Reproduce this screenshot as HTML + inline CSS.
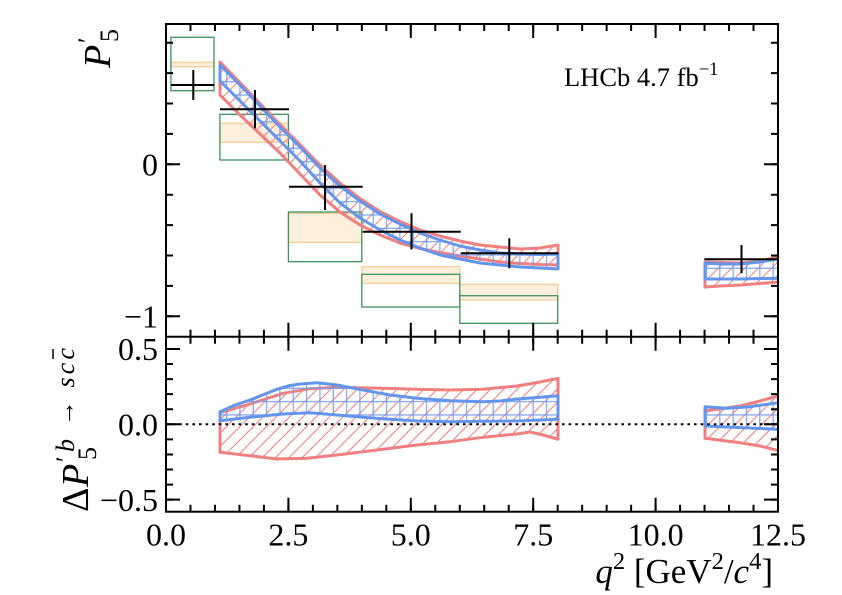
<!DOCTYPE html>
<html><head><meta charset="utf-8">
<style>
html,body{margin:0;padding:0;background:#fff;}
svg{display:block;}
svg text{font-family:"Liberation Serif","DejaVu Serif",serif;fill:#000;}
</style></head>
<body>
<svg width="842" height="595" viewBox="0 0 842 595" xmlns="http://www.w3.org/2000/svg" font-family="'Liberation Serif', 'DejaVu Serif', serif">
<defs>
  <pattern id="rh" patternUnits="userSpaceOnUse" x="0" y="0" width="13.33" height="13.33">
    <path d="M-2,2 L2,-2 M0,13.33 L13.33,0 M11.33,15.33 L15.33,11.33" stroke="#f08080" stroke-width="1.1" fill="none"/>
  </pattern>
  <pattern id="bh" patternUnits="userSpaceOnUse" x="-6.67" y="-4.97" width="13.33" height="13.33">
    <path d="M6.67,0 V13.33 M0,6.67 H13.33" stroke="#6f9bee" stroke-width="1.2" fill="none" opacity="0.9"/>
  </pattern>
  <clipPath id="ctop"><rect x="166" y="24" width="612" height="312.7"/></clipPath>
  <clipPath id="cbot"><rect x="166" y="336.7" width="612" height="175"/></clipPath>
</defs>

<!-- ===== TOP PANEL ===== -->
<g clip-path="url(#ctop)">
  <g fill="#feefdc" stroke="#f9cfa2" stroke-width="1.4">
    <rect x="170.9" y="62.3" width="43.1" height="4.4"/>
    <rect x="219.9" y="123.3" width="68.5" height="19"/>
    <rect x="288.4" y="213.3" width="73.4" height="29"/>
    <rect x="361.8" y="266.7" width="98" height="16.6"/>
    <rect x="459.8" y="284.3" width="97.9" height="15.7"/>
  </g>
  <g fill="none" stroke="#3a9460" stroke-width="1.3">
    <rect x="170.9" y="37.3" width="43.1" height="53.4"/>
    <rect x="219.9" y="114.3" width="68.5" height="45.7"/>
    <rect x="288.4" y="212" width="73.4" height="49.7"/>
    <rect x="361.8" y="274.3" width="98" height="32.7"/>
    <rect x="459.8" y="295.7" width="97.9" height="27.6"/>
  </g>
  <g fill="url(#rh)" stroke="#f08080" stroke-width="3" stroke-linejoin="round">
    <path d="M220,62 L240,82.5 260,103.5 280,124.5 300,144.5 320,165 340,183 360,198.5 380,211.5 400,221.5 420,230 440,236 460,241 480,245 500,247 520,249 540,248 558,245 L558,265 540,264.5 520,263.5 500,262 480,259 460,256 440,252.5 420,248.5 400,243 380,235 360,225 340,212 320,195 300,174 280,153 260,134 240,115 220,95 Z"/>
    <path d="M705,262 L740,263 760,261 778,257 792,254 L792,281 778,282 760,283.5 740,285 720,286 705,287 Z"/>
  </g>
  <g fill="url(#bh)" stroke="#6495ed" stroke-width="3" stroke-linejoin="round">
    <path d="M220,65 L240,85 260,106 280,127 300,147 320,168 340,186 360,201 380,214 400,224 420,233 440,240 460,246 480,250 500,253 520,254 540,254.5 558,254 L558,269 540,268 520,267 500,265 480,263 460,259 440,255 420,248 400,240 380,230 360,218 340,203 320,183 300,161 280,141 260,121 240,101 220,81 Z"/>
    <path d="M705,263 L720,264 740,264 760,262 778,259 792,257 L792,278 740,279 705,279 Z"/>
  </g>
  <g stroke="#000" stroke-width="2" fill="none">
    <path d="M171,85 H214.3 M193.3,70 V100"/>
    <path d="M220,109.3 H289 M255,90 V128.3"/>
    <path d="M289,186.7 H362.7 M325,165 V210"/>
    <path d="M362.7,231.7 H460.7 M411.5,213.3 V249.5"/>
    <path d="M460.7,253.3 H558.3 M509.3,238.3 V268.3"/>
    <path d="M704.3,259.3 H790 M741.5,245 V273.3"/>
  </g>
</g>

<!-- ===== BOTTOM PANEL ===== -->
<g clip-path="url(#cbot)">
  <g fill="url(#rh)" stroke="#f08080" stroke-width="3" stroke-linejoin="round">
    <path d="M220,412.7 L250,404 283,393.3 310,388.7 337,387.3 383,388.3 417,389.3 450,390 483,389.3 517,386 540,382 558,378.3 L558,439.3 543,435 530,432 517,434 483,437.3 450,441.7 417,445 383,449.3 337,455 307,458.3 277,459 250,455.7 220,452.3 Z"/>
    <path d="M705,411 L740,406 760,401 792,392 L792,454 760,446 740,442.7 705,438.3 Z"/>
  </g>
  <g fill="url(#bh)" stroke="#6495ed" stroke-width="3" stroke-linejoin="round">
    <path d="M220,411.7 L235,405 250,400 265,394 277,389.3 290,385.5 300,384 317,382.7 337,385 363,390 390,395 417,398.3 450,400.7 483,401.7 500,401 517,399 537,397.5 558,395.7 L558,419.3 517,421 483,421.3 450,421.7 417,421 390,419.3 363,417.3 337,415 310,412.7 283,414 250,417.3 220,420.7 Z"/>
    <path d="M705,406.7 L727,408.3 750,406.7 778,402.7 792,401 L792,430 705,426 Z"/>
  </g>
  <line x1="166" y1="424.3" x2="778" y2="424.3" stroke="#000" stroke-width="2" stroke-dasharray="2.6 4"/>
</g>

<!-- ===== SPINES ===== -->
<rect x="166" y="24" width="612" height="487.7" fill="none" stroke="#000" stroke-width="2"/>
<line x1="166" y1="336.7" x2="778" y2="336.7" stroke="#000" stroke-width="2"/>

<!-- ===== X TICKS ===== -->
<g stroke="#000" fill="none">
  <line x1="165" y1="27.5" x2="779" y2="27.5" stroke-width="7" stroke-dasharray="2 22.48"/>
  <line x1="165" y1="31" x2="779" y2="31" stroke-width="14" stroke-dasharray="2 120.4"/>
  <line x1="165" y1="333.2" x2="779" y2="333.2" stroke-width="7" stroke-dasharray="2 22.48"/>
  <line x1="165" y1="329.7" x2="779" y2="329.7" stroke-width="14" stroke-dasharray="2 120.4"/>
  <line x1="165" y1="340.2" x2="779" y2="340.2" stroke-width="7" stroke-dasharray="2 22.48"/>
  <line x1="165" y1="343.7" x2="779" y2="343.7" stroke-width="14" stroke-dasharray="2 120.4"/>
  <line x1="165" y1="508.2" x2="779" y2="508.2" stroke-width="7" stroke-dasharray="2 22.48"/>
  <line x1="165" y1="504.7" x2="779" y2="504.7" stroke-width="14" stroke-dasharray="2 120.4"/>
</g>

<!-- ===== Y TICKS ===== -->
<g stroke="#000" fill="none">
  <line x1="169.5" y1="41.7" x2="169.5" y2="318" stroke-width="7" stroke-dasharray="2 28.4"/>
  <line x1="173" y1="163.3" x2="173" y2="318" stroke-width="14" stroke-dasharray="2 150"/>
  <line x1="774.5" y1="41.7" x2="774.5" y2="318" stroke-width="7" stroke-dasharray="2 28.4"/>
  <line x1="771" y1="163.3" x2="771" y2="318" stroke-width="14" stroke-dasharray="2 150"/>
  <line x1="169.5" y1="347.95" x2="169.5" y2="501" stroke-width="7" stroke-dasharray="2 13.07"/>
  <line x1="173" y1="347.95" x2="173" y2="501" stroke-width="14" stroke-dasharray="2 73.35"/>
  <line x1="774.5" y1="347.95" x2="774.5" y2="501" stroke-width="7" stroke-dasharray="2 13.07"/>
  <line x1="771" y1="347.95" x2="771" y2="501" stroke-width="14" stroke-dasharray="2 73.35"/>
</g>

<!-- ===== TICK LABELS ===== -->
<g font-size="32" text-anchor="end" font-family="'Liberation Serif', 'DejaVu Serif', serif">
  <text x="158" y="175.5">0</text>
  <text x="158" y="327.5">−1</text>
  <text x="158" y="360">0.5</text>
  <text x="158" y="435.5">0.0</text>
  <text x="158" y="511">−0.5</text>
</g>
<g font-size="32" text-anchor="middle" font-family="'Liberation Serif', 'DejaVu Serif', serif">
  <text x="166" y="545.5">0.0</text>
  <text x="288.4" y="545.5">2.5</text>
  <text x="410.8" y="545.5">5.0</text>
  <text x="533.2" y="545.5">7.5</text>
  <text x="655.6" y="545.5">10.0</text>
  <text x="778" y="545.5">12.5</text>
</g>

<!-- ===== AXIS LABELS ===== -->
<text x="773" y="583" font-size="35" text-anchor="end" font-family="'Liberation Serif', 'DejaVu Serif', serif"><tspan font-style="italic">q</tspan><tspan font-size="24.5" dy="-14">2</tspan><tspan dy="14"> [GeV</tspan><tspan font-size="24.5" dy="-14">2</tspan><tspan dy="14">/</tspan><tspan font-style="italic">c</tspan><tspan font-size="24.5" dy="-14">4</tspan><tspan dy="14">]</tspan></text>

<g transform="translate(110,68) rotate(-90)" font-family="'Liberation Serif', 'DejaVu Serif', serif">
  <text x="0" y="0" font-size="38" font-style="italic">P</text>
  <text x="25" y="-14" font-size="26">′</text>
  <text x="26" y="8" font-size="26">5</text>
</g>

<g transform="translate(88,512) rotate(-90)" font-family="'Liberation Serif', 'DejaVu Serif', serif">
  <text x="0" y="0" font-size="38">Δ</text>
  <text x="25" y="0" font-size="38" font-style="italic">P</text>
  <text x="50" y="-14" font-size="26">′</text>
  <text x="52" y="8" font-size="26">5</text>
  <text x="60" y="-14" font-size="26" textLength="104" lengthAdjust="spacing"><tspan font-style="italic">b</tspan> → <tspan font-style="italic">sc</tspan><tspan font-style="italic">c</tspan></text>
  <line x1="153" y1="-35" x2="163" y2="-35" stroke="#000" stroke-width="1.5"/>
</g>

<!-- ===== LHCb TEXT ===== -->
<text x="564" y="86" font-size="26.5" font-family="'Liberation Serif', 'DejaVu Serif', serif">LHCb 4.7 fb<tspan font-size="18.5" dy="-11">−1</tspan></text>
</svg>
</body></html>
